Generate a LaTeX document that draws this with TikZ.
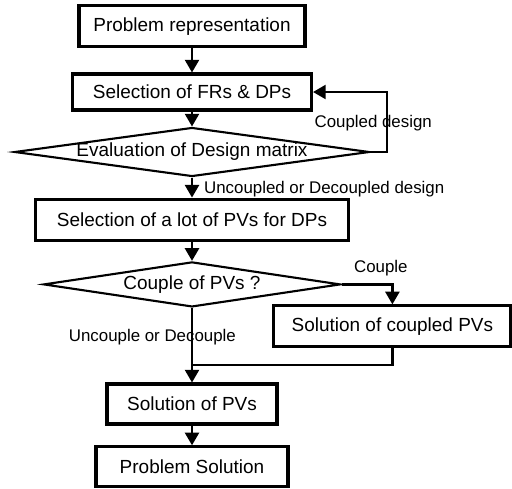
\documentclass[tikz,border=0pt]{standalone}
\usepackage{fontspec}
\setmainfont{Liberation Sans}
\usetikzlibrary{shapes.geometric, arrows.meta, positioning, calc}

\begin{document}
\begin{tikzpicture}[
  stepbox/.style={draw, line width=2.2pt, inner sep=0pt, font=\fontsize{13.5}{16}\selectfont},
  decbox/.style={draw, diamond, line width=1.5pt, inner sep=0pt},
  dectext/.style={font=\fontsize{13.5}{16}\selectfont},
  flow/.style={line width=1.6pt, -{Triangle[width=10pt,length=9pt]}},
  lbl/.style={font=\fontsize{12}{14}\selectfont}
]
  \useasboundingbox (0,0) rectangle (12.8,-12.2);

  % Main column
  \node[stepbox, minimum width=5.65cm, minimum height=1.025cm] (probrep) at (4.8,-0.66) {Problem representation};
  \node[stepbox, minimum width=5.975cm, minimum height=0.9cm] (selfr) at (4.8,-2.3) {Selection of FRs \& DPs};

  \node[decbox, minimum width=8.875cm, minimum height=1.225cm] (evaldm) at (4.8,-3.8) {};
  \node[dectext] (evaltxt) at (evaldm.center) {Evaluation of Design matrix};

  \node[stepbox, minimum width=7.825cm, minimum height=1.025cm] (selpv) at (4.8,-5.49) {Selection of a lot of PVs for DPs};

  \node[decbox, minimum width=7.425cm, minimum height=1.125cm] (couplepv) at (4.8,-7.11) {};
  \node[dectext] (coupletxt) at (couplepv.center) {Couple of PVs ?};

  \node[stepbox, minimum width=5.925cm, minimum height=1.025cm] (solcpv) at (9.81,-8.16) {Solution of coupled PVs};

  \node[stepbox, minimum width=4.25cm, minimum height=1.0cm] (solpv) at (4.8,-10.1) {Solution of PVs};
  \node[stepbox, minimum width=4.8cm, minimum height=1.0cm] (probsol) at (4.8,-11.67) {Problem Solution};

  % Connectors
  \draw[flow] (probrep) -- (selfr);
  \draw[flow] (selfr) -- (evaldm.north);
  \coordinate (fbk) at (9.675,-3.8);
  \draw[flow] (evaldm.east) -- (fbk) |- (selfr.east);
  \draw[flow] (evaldm.south) -- (selpv.north);
  \draw[flow] (selpv) -- (couplepv.north);
  \draw[flow] (couplepv.east) -| (solcpv.north);
  \coordinate (merge) at (4.8,-9.125);
  \draw[line width=1.6pt] (solcpv.south) |- (merge);
  \draw[flow] (couplepv.south) -- (solpv.north);
  \draw[flow] (solpv) -- (probsol);

  % Branch labels
  \node[lbl] (lcoupled) at (9.33,-3.08) {Coupled design};
  \node[lbl, anchor=west] (luncoupled) at (4.98,-4.725) {Uncoupled or Decoupled design};
  \node[lbl] (lcouple) at (9.52,-6.7) {Couple};
  \node[lbl] (luncouple) at (3.81,-8.425) {Uncouple or Decouple};
\end{tikzpicture}
\end{document}
